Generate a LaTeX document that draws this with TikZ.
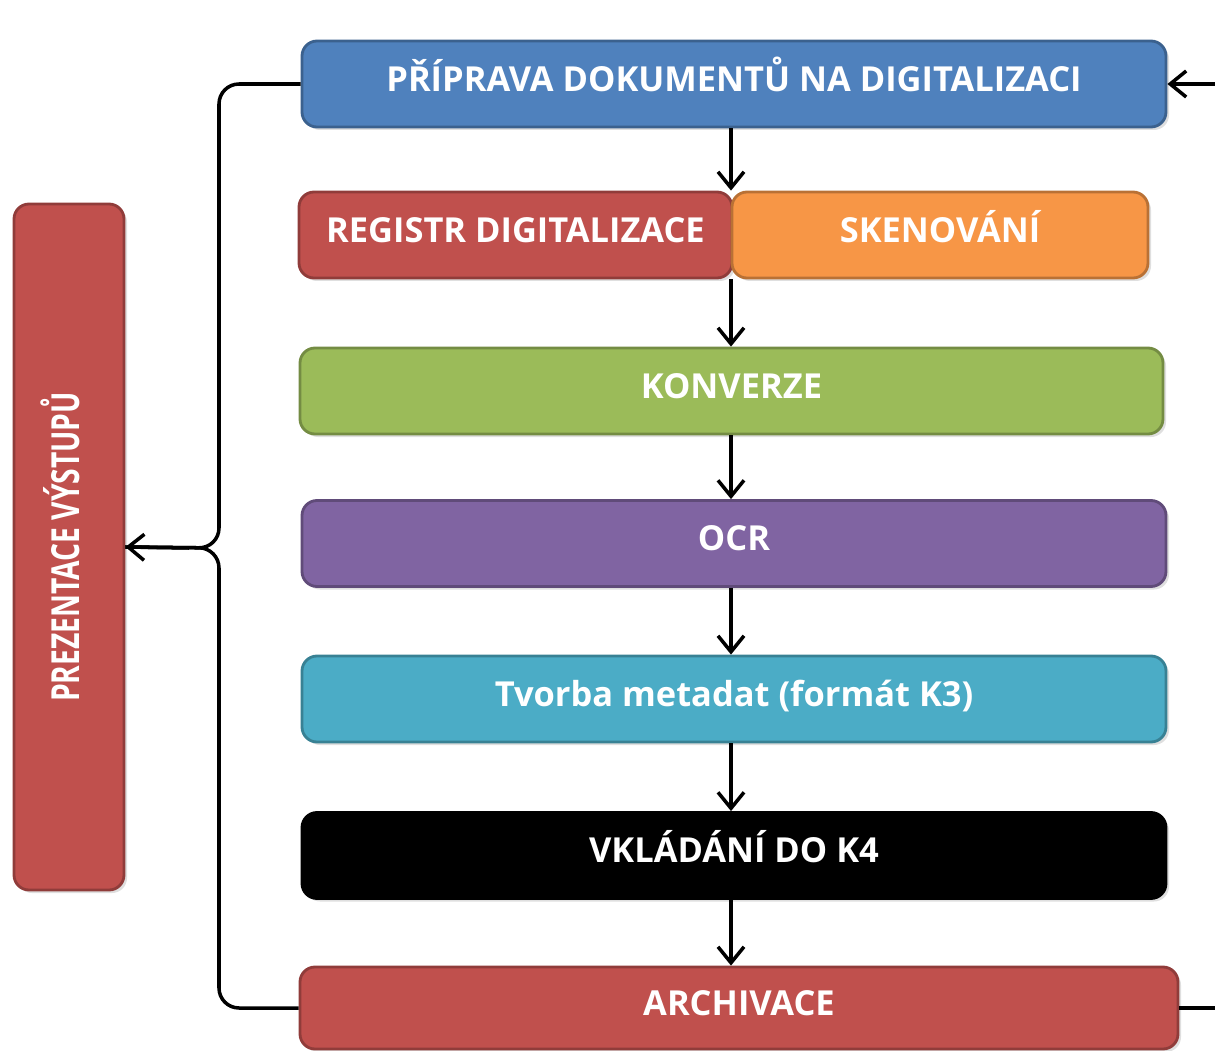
\documentclass[tikz,border=0pt]{standalone}
\usepackage{fontspec}
\setmainfont{Open Sans}
\newfontfamily\narrowfont[FakeStretch=0.73]{Open Sans}
\usetikzlibrary{arrows.meta, positioning, shadows}

\definecolor{stepblue}{HTML}{4F81BD}
\definecolor{stepred}{HTML}{C0504D}
\definecolor{steporange}{HTML}{F79646}
\definecolor{stepgreen}{HTML}{9BBB59}
\definecolor{steppurple}{HTML}{8064A2}
\definecolor{stepteal}{HTML}{4BACC6}

\tikzset{
  stepbox/.style={rounded corners=0.15cm, line width=0.8pt, text=white,
    font=\fontsize{9.8}{11}\selectfont\bfseries, minimum height=0.86cm,
    minimum width=8.64cm, inner sep=0pt, text height=4.2pt, text depth=0pt,
    drop shadow={opacity=0.25, shadow xshift=0.03cm, shadow yshift=-0.03cm}},
  arr/.style={-{Straight Barb[length=1.6mm, width=2.6mm]}, line width=1pt},
  brace/.style={line width=1pt, rounded corners=0.2cm}
}

\begin{document}
\begin{tikzpicture}
\useasboundingbox (0,0) rectangle (12.15,-10.51);

% The steps
\node [stepbox, fill=stepblue, draw=stepblue!75!black] (prep) at (7.34,-0.84) {PŘÍPRAVA DOKUMENTŮ NA DIGITALIZACI};
\node [stepbox, fill=stepred, draw=stepred!75!black, minimum width=4.33cm] (reg) at (5.155,-2.35) {REGISTR DIGITALIZACE};
\node [stepbox, fill=steporange, draw=steporange!75!black, minimum width=4.16cm] (scan) at (9.40,-2.35) {SKENOVÁNÍ};
\node [stepbox, fill=stepgreen, draw=stepgreen!75!black, minimum width=8.63cm] (konv) at (7.315,-3.91) {KONVERZE};
\node [stepbox, fill=steppurple, draw=steppurple!75!black] (ocr) at (7.34,-5.435) {OCR};
\node [stepbox, fill=stepteal, draw=stepteal!75!black] (meta) at (7.34,-6.99) {Tvorba metadat (formát K3)};
\node [stepbox, fill=black, draw=black] (k4) at (7.34,-8.555) {VKLÁDÁNÍ DO K4};
\node [stepbox, fill=stepred, draw=stepred!75!black, minimum width=8.78cm, minimum height=0.82cm] (arch) at (7.39,-10.08) {ARCHIVACE};

% Presentation of outputs
\node [stepbox, fill=stepred, draw=stepred!75!black, minimum width=6.86cm, minimum height=1.10cm,
  rotate=90, font=\narrowfont\fontsize{11}{12}\selectfont\bfseries, text height=6pt] (prez) at (0.69,-5.47) {PREZENTACE VÝSTUPŮ};

% The flow
\coordinate (axis) at (7.31,0);
\foreach \a/\b in {prep/reg, reg/konv, konv/ocr, ocr/meta, meta/k4, k4/arch}
  \draw [arr] (\a.south -| axis) -- (\b.north -| axis);

% The loop back
\coordinate (loopin) at (12.15,-0.84);
\draw [arr] (loopin) -- (prep.east);
\draw [line width=1pt] (arch.east) -- (arch.east -| loopin);

% The brace
\coordinate (tip) at (2.19,-5.48);
\draw [brace] (prep.west) -| (tip) -- (prez.south);
\draw [brace] (arch.west) -| (tip) -- (prez.south);
\draw [arr] (tip) ++(-0.3,0) -- (prez.south);

\end{tikzpicture}
\end{document}
